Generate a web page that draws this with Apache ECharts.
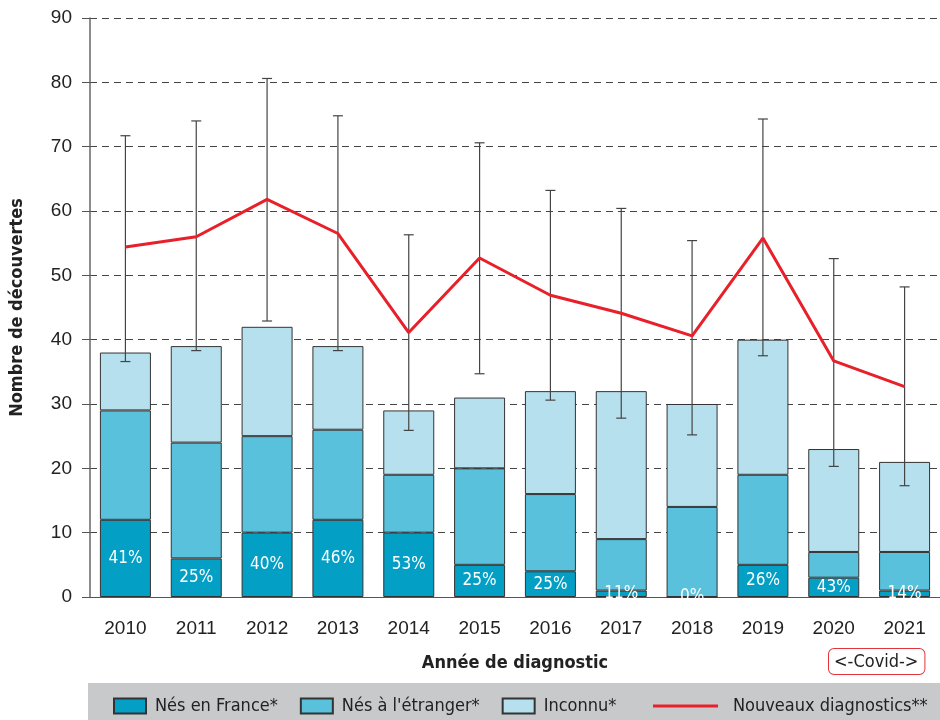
<!DOCTYPE html>
<html>
<head>
<meta charset="utf-8">
<script src="https://cdn.jsdelivr.net/npm/echarts@6/dist/echarts.min.js"></script>
<style>
  html, body { margin: 0; padding: 0; background: #fff; }
  #chart { width: 940px; height: 720px; }
</style>
</head>
<body>
<div id="chart"></div>
<script>
const years = ['2010', '2011', '2012', '2013', '2014', '2015', '2016', '2017', '2018', '2019', '2020', '2021'];

// barres empilées
const nesFrance = [12, 6, 10, 12, 10, 5, 4, 1, 0, 5, 3, 1];
const nesEtranger = [17, 18, 15, 14, 9, 15, 12, 8, 14, 14, 4, 6];
const inconnu = [9, 15, 17, 13, 10, 11, 16, 23, 16, 21, 16, 14];
const pctFrance = ['41%', '25%', '40%', '46%', '53%', '25%', '25%', '11%', '0%', '26%', '43%', '14%'];

// nouveaux diagnostics + intervalle
const nouveauxDiag = [54.4, 56.0, 61.8, 56.5, 41.1, 52.7, 46.9, 44.1, 40.6, 55.8, 36.7, 32.7];
const icBas = [36.6, 38.3, 42.9, 38.3, 25.9, 34.7, 30.6, 27.8, 25.2, 37.5, 20.3, 17.3];
const icHaut = [71.7, 74.0, 80.6, 74.8, 56.3, 70.6, 63.2, 60.4, 55.4, 74.3, 52.6, 48.2];

const narrow = "'DejaVu Sans Condensed', 'Liberation Sans Narrow', sans-serif";
const regular = "'Liberation Sans', Arial, sans-serif";

const chart = echarts.init(document.getElementById('chart'));

const barBase = {
    type: 'bar',
    stack: 'total',
    barWidth: 51,
    itemStyle: { borderColor: '#333', borderWidth: 1 }
};

chart.setOption({
    animation: false,
    grid: { left: 88, top: 18, width: 861, height: 579 },
    graphic: [
        {
            type: 'rect',
            left: 88, top: 683,
            shape: { width: 852, height: 37 },
            style: { fill: '#c8c9cb' },
            z: -10
        },
        {
            type: 'text',
            left: 828, top: 648,
            style: {
                text: '<-Covid->',
                font: '18px ' + narrow,
                fill: '#222',
                borderColor: '#e2363c',
                borderWidth: 1,
                borderRadius: 5,
                padding: [4, 6, 3, 5],
                backgroundColor: '#fff'
            }
        }
    ],
    legend: [
        {
            left: 108, top: 692,
            icon: 'rect',
            itemWidth: 32, itemHeight: 15, itemGap: 22,
            textStyle: { fontFamily: narrow, fontSize: 18, color: '#222', padding: [0, 0, 0, 4] },
            data: ['Nés en France*', "Nés à l'étranger*", 'Inconnu*']
        },
        {
            left: 648, top: 692,
            itemWidth: 65, itemHeight: 15,
            textStyle: { fontFamily: narrow, fontSize: 18, color: '#222', padding: [0, 0, 0, 10] },
            data: [{ name: 'Nouveaux diagnostics**', icon: 'path://M0,6h65v3h-65z' }]
        }
    ],
    xAxis: {
        type: 'category',
        data: years,
        name: 'Année de diagnostic',
        nameLocation: 'middle',
        nameGap: 57,
        nameTextStyle: { fontFamily: narrow, fontWeight: 'bold', fontSize: 18, color: '#222' },
        axisLine: { lineStyle: { color: '#555', width: 1 } },
        axisTick: { length: 6, lineStyle: { color: '#555' } },
        axisLabel: { fontFamily: regular, fontSize: 19, color: '#222', margin: 22 }
    },
    yAxis: {
        type: 'value',
        min: 0, max: 90, interval: 10,
        name: 'Nombre de découvertes',
        nameLocation: 'middle',
        nameGap: 64,
        nameTextStyle: { fontFamily: narrow, fontWeight: 'bold', fontSize: 18, color: '#222' },
        axisLine: { show: true, lineStyle: { color: '#666', width: 1.5 } },
        axisTick: { show: true, length: 8, lineStyle: { color: '#555' } },
        axisLabel: { fontFamily: regular, fontSize: 19, color: '#222', margin: 18 },
        splitLine: { lineStyle: { color: '#444', type: [7, 5], width: 1 } }
    },
    series: [
        {
            ...barBase,
            name: 'Nés en France*',
            data: nesFrance,
            itemStyle: { ...barBase.itemStyle, color: '#039fc5' },
            label: {
                show: true,
                position: 'inside',
                fontFamily: narrow,
                fontSize: 17,
                color: '#fff',
                formatter: p => pctFrance[p.dataIndex]
            }
        },
        {
            ...barBase,
            name: "Nés à l'étranger*",
            data: nesEtranger,
            itemStyle: { ...barBase.itemStyle, color: '#5ac1dc' }
        },
        {
            ...barBase,
            name: 'Inconnu*',
            data: inconnu,
            itemStyle: { ...barBase.itemStyle, color: '#b6e0ed' }
        },
        {
            type: 'custom',
            name: 'IC',
            z: 5,
            data: years.map((y, i) => [i, icBas[i], icHaut[i]]),
            renderItem: (params, api) => {
                const lo = api.coord([api.value(0), api.value(1)]);
                const hi = api.coord([api.value(0), api.value(2)]);
                const w = 5;
                const st = { stroke: '#444', lineWidth: 1.2 };
                return {
                    type: 'group',
                    children: [
                        { type: 'line', shape: { x1: lo[0], y1: lo[1], x2: hi[0], y2: hi[1] }, style: st },
                        { type: 'line', shape: { x1: lo[0] - w, y1: lo[1], x2: lo[0] + w, y2: lo[1] }, style: st },
                        { type: 'line', shape: { x1: hi[0] - w, y1: hi[1], x2: hi[0] + w, y2: hi[1] }, style: st }
                    ]
                };
            }
        },
        {
            type: 'line',
            name: 'Nouveaux diagnostics**',
            data: nouveauxDiag,
            symbol: 'none',
            z: 10,
            lineStyle: { color: '#e8202a', width: 3 },
            itemStyle: { color: '#e8202a' }
        }
    ]
});
</script>
</body>
</html>
